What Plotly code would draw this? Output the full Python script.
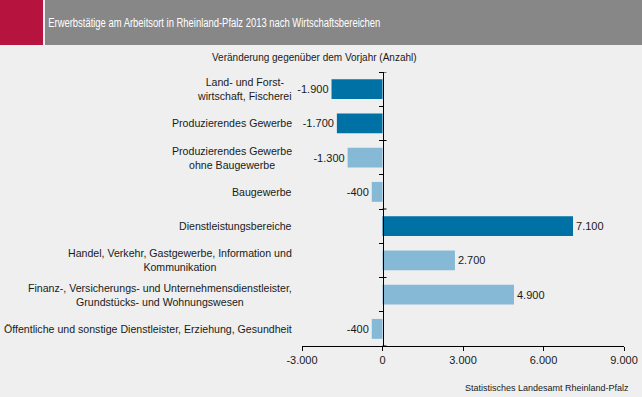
import plotly.graph_objects as go

categories = [
    "Land- und Forst-<br>wirtschaft, Fischerei",
    "Produzierendes Gewerbe",
    "Produzierendes Gewerbe<br>ohne Baugewerbe",
    "Baugewerbe",
    "Dienstleistungsbereiche",
    "Handel, Verkehr, Gastgewerbe, Information und<br>Kommunikation",
    "Finanz-, Versicherungs- und Unternehmensdienstleister,<br>Grundstücks- und Wohnungswesen",
    "Öffentliche und sonstige Dienstleister, Erziehung, Gesundheit",
]
values = [-1900, -1700, -1300, -400, 7100, 2700, 4900, -400]
is_main = [True, True, False, False, True, False, False, False]
tick_values = [-3000, 0, 3000, 6000, 9000]

title = "Erwerbstätige am Arbeitsort in Rheinland-Pfalz 2013 nach Wirtschaftsbereichen"
subtitle = "Veränderung gegenüber dem Vorjahr (Anzahl)"
source = "Statistisches Landesamt Rheinland-Pfalz"

DARK = "#0071A4"
LIGHT = "#85B9D6"
BG = "#EEEFEE"
FONT = "Liberation Sans, Arial, sans-serif"


def de(v):
    s = f"{abs(v):,.0f}".replace(",", ".")
    return ("-" if v < 0 else "") + s


fig = go.Figure()
fig.add_trace(go.Bar(
    x=values, y=categories, orientation="h",
    marker=dict(color=[DARK if m else LIGHT for m in is_main], line=dict(width=0)),
    width=0.58,
    text=[de(v) for v in values], textposition="outside",
    textfont=dict(family=FONT, size=11, color="#1a1a1a"),
    cliponaxis=False, hoverinfo="skip",
))

W, H = 642, 397
L, R, T, B = 302, 18, 72, 51
pw, ph = W - L - R, H - T - B


def px(x):
    return (x - L) / pw


def py(y):
    return (H - B - y) / ph


shapes = [
    dict(type="rect", xref="paper", yref="paper", x0=px(0), x1=px(43), y0=py(45), y1=py(0),
         fillcolor="#B7133F", line=dict(width=0), layer="below"),
    dict(type="rect", xref="paper", yref="paper", x0=px(45), x1=px(W), y0=py(45), y1=py(0),
         fillcolor="#878787", line=dict(width=0), layer="below"),
]
n = len(categories)
for i in range(0, n + 1, 2):
    shapes.append(dict(type="line", xref="x", yref="y", xsizemode="pixel", xanchor=0,
                       x0=0, x1=4, y0=i - 0.5, y1=i - 0.5, line=dict(color="black", width=1)))

annotations = [
    dict(text=title, xref="paper", yref="paper", x=px(214), y=py(23), xanchor="center", yanchor="middle",
         showarrow=False, font=dict(family=FONT, size=12.5, color="white")),
    dict(text=subtitle, xref="paper", yref="paper", x=px(314), y=py(58), xanchor="center", yanchor="middle",
         showarrow=False, font=dict(family=FONT, size=10, color="#1a1a1a")),
    dict(text=source, xref="paper", yref="paper", x=px(631), y=py(388), xanchor="right", yanchor="middle",
         showarrow=False, font=dict(family=FONT, size=9, color="#1a1a1a")),
]
for c in categories:
    annotations.append(dict(text=c, xref="paper", yref="y", x=px(294), y=c, xanchor="right",
                            yanchor="middle", align="center", showarrow=False,
                            font=dict(family=FONT, size=10.6, color="#1a1a1a")))

fig.update_layout(
    width=W, height=H,
    margin=dict(l=L, r=R, t=T, b=B, pad=0, autoexpand=False),
    paper_bgcolor=BG, plot_bgcolor=BG,
    showlegend=False,
    font=dict(family=FONT, size=11, color="#1a1a1a"),
    xaxis=dict(range=[-3000, 9000], tickvals=tick_values, ticktext=[de(v) for v in tick_values],
               showgrid=False, zeroline=False, showline=True, linecolor="black", linewidth=1,
               ticks="outside", ticklen=4, tickcolor="black", fixedrange=True, automargin=False,
               tickfont=dict(family=FONT, size=11, color="#1a1a1a")),
    yaxis=dict(type="category", categoryarray=categories, range=[n - 0.5, -0.5],
               anchor="free", position=0.25, showline=True, linecolor="black", linewidth=1,
               ticks="outside", tickson="boundaries", ticklen=4, tickcolor="black", automargin=False,
               showticklabels=False, showgrid=False, zeroline=False, fixedrange=True),
    shapes=shapes, annotations=annotations,
)

post = """
document.documentElement.style.margin = '0';
document.body.style.margin = '0';
var fits = [['Erwerbst', 332]];
document.querySelectorAll('.annotation-text').forEach(function (t) {
  var s = t.textContent || '';
  fits.forEach(function (f) {
    if (s.indexOf(f[0]) === 0) {
      t.setAttribute('textLength', f[1]);
      t.setAttribute('lengthAdjust', 'spacingAndGlyphs');
    }
  });
});
"""

fig.write_html("out.html", config={"displayModeBar": False}, post_script=post)
